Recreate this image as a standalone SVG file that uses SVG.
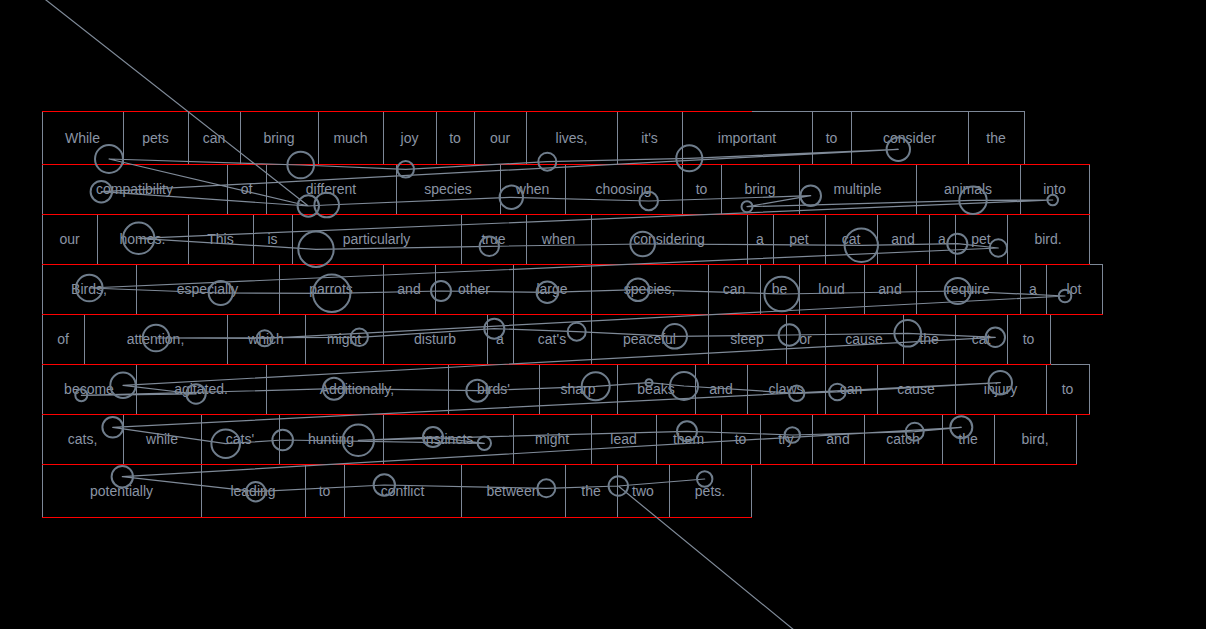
<svg xmlns="http://www.w3.org/2000/svg" width="1206" height="629" viewBox="0 0 1206 629">
<style>
.c rect{fill:none;stroke:#7d8797;stroke-width:1}
.c text{font-family:"Liberation Sans",Arial,sans-serif;font-size:14px;fill:#8a94a4;text-anchor:middle}
.red line{stroke:#ff0000;stroke-width:1.2}
.fx circle{fill:none;stroke:#6f7d8c;stroke-width:2}
.cn{fill:none;stroke:#7f8a98;stroke-width:1.2;stroke-linejoin:round}
</style>
<rect x="0" y="0" width="1206" height="629" fill="#000"/>
<g id="row1" class="c">
<g id="w1-1"><rect x="42.5" y="111.5" width="81" height="53"/><text x="82.5" y="142.5">While</text></g>
<g id="w1-2"><rect x="123.5" y="111.5" width="65" height="53"/><text x="155.5" y="142.5">pets</text></g>
<g id="w1-3"><rect x="188.5" y="111.5" width="52" height="53"/><text x="214" y="142.5">can</text></g>
<g id="w1-4"><rect x="240.5" y="111.5" width="78" height="53"/><text x="279" y="142.5">bring</text></g>
<g id="w1-5"><rect x="318.5" y="111.5" width="65" height="53"/><text x="350.5" y="142.5">much</text></g>
<g id="w1-6"><rect x="383.5" y="111.5" width="53" height="53"/><text x="409.5" y="142.5">joy</text></g>
<g id="w1-7"><rect x="436.5" y="111.5" width="38" height="53"/><text x="455" y="142.5">to</text></g>
<g id="w1-8"><rect x="474.5" y="111.5" width="52" height="53"/><text x="500" y="142.5">our</text></g>
<g id="w1-9"><rect x="526.5" y="111.5" width="91" height="53"/><text x="571.5" y="142.5">lives,</text></g>
<g id="w1-10"><rect x="617.5" y="111.5" width="65" height="53"/><text x="649.5" y="142.5">it's</text></g>
<g id="w1-11"><rect x="682.5" y="111.5" width="130" height="53"/><text x="747" y="142.5">important</text></g>
<g id="w1-12"><rect x="812.5" y="111.5" width="39" height="53"/><text x="831.5" y="142.5">to</text></g>
<g id="w1-13"><rect x="851.5" y="111.5" width="117" height="53"/><text x="909.5" y="142.5">consider</text></g>
<g id="w1-14"><rect x="968.5" y="111.5" width="56" height="53"/><text x="996" y="142.5">the</text></g>
</g>
<g id="row2" class="c">
<g id="w2-1"><rect x="42.5" y="164.5" width="185" height="50"/><text x="134.5" y="194">compatibility</text></g>
<g id="w2-2"><rect x="227.5" y="164.5" width="39" height="50"/><text x="246.5" y="194">of</text></g>
<g id="w2-3"><rect x="266.5" y="164.5" width="130" height="50"/><text x="331" y="194">different</text></g>
<g id="w2-4"><rect x="396.5" y="164.5" width="104" height="50"/><text x="448" y="194">species</text></g>
<g id="w2-5"><rect x="500.5" y="164.5" width="65" height="50"/><text x="532.5" y="194">when</text></g>
<g id="w2-6"><rect x="565.5" y="164.5" width="117" height="50"/><text x="623.5" y="194">choosing</text></g>
<g id="w2-7"><rect x="682.5" y="164.5" width="39" height="50"/><text x="701.5" y="194">to</text></g>
<g id="w2-8"><rect x="721.5" y="164.5" width="78" height="50"/><text x="760" y="194">bring</text></g>
<g id="w2-9"><rect x="799.5" y="164.5" width="117" height="50"/><text x="857.5" y="194">multiple</text></g>
<g id="w2-10"><rect x="916.5" y="164.5" width="104" height="50"/><text x="968" y="194">animals</text></g>
<g id="w2-11"><rect x="1020.5" y="164.5" width="69" height="50"/><text x="1054.5" y="194">into</text></g>
</g>
<g id="row3" class="c">
<g id="w3-1"><rect x="42.5" y="214.5" width="55" height="50"/><text x="69.5" y="244">our</text></g>
<g id="w3-2"><rect x="97.5" y="214.5" width="91" height="50"/><text x="142.5" y="244">homes.</text></g>
<g id="w3-3"><rect x="188.5" y="214.5" width="65" height="50"/><text x="220.5" y="244">This</text></g>
<g id="w3-4"><rect x="253.5" y="214.5" width="39" height="50"/><text x="272.5" y="244">is</text></g>
<g id="w3-5"><rect x="292.5" y="214.5" width="169" height="50"/><text x="376.5" y="244">particularly</text></g>
<g id="w3-6"><rect x="461.5" y="214.5" width="65" height="50"/><text x="493.5" y="244">true</text></g>
<g id="w3-7"><rect x="526.5" y="214.5" width="65" height="50"/><text x="558.5" y="244">when</text></g>
<g id="w3-8"><rect x="591.5" y="214.5" width="156" height="50"/><text x="669" y="244">considering</text></g>
<g id="w3-9"><rect x="747.5" y="214.5" width="26" height="50"/><text x="760" y="244">a</text></g>
<g id="w3-10"><rect x="773.5" y="214.5" width="52" height="50"/><text x="799" y="244">pet</text></g>
<g id="w3-11"><rect x="825.5" y="214.5" width="52" height="50"/><text x="851" y="244">cat</text></g>
<g id="w3-12"><rect x="877.5" y="214.5" width="52" height="50"/><text x="903" y="244">and</text></g>
<g id="w3-13"><rect x="929.5" y="214.5" width="26" height="50"/><text x="942" y="244">a</text></g>
<g id="w3-14"><rect x="955.5" y="214.5" width="52" height="50"/><text x="981" y="244">pet</text></g>
<g id="w3-15"><rect x="1007.5" y="214.5" width="82" height="50"/><text x="1048" y="244">bird.</text></g>
</g>
<g id="row4" class="c">
<g id="w4-1"><rect x="42.5" y="264.5" width="94" height="50"/><text x="89" y="294">Birds,</text></g>
<g id="w4-2"><rect x="136.5" y="264.5" width="143" height="50"/><text x="207.5" y="294">especially</text></g>
<g id="w4-3"><rect x="279.5" y="264.5" width="104" height="50"/><text x="331" y="294">parrots</text></g>
<g id="w4-4"><rect x="383.5" y="264.5" width="52" height="50"/><text x="409" y="294">and</text></g>
<g id="w4-5"><rect x="435.5" y="264.5" width="78" height="50"/><text x="474" y="294">other</text></g>
<g id="w4-6"><rect x="513.5" y="264.5" width="78" height="50"/><text x="552" y="294">large</text></g>
<g id="w4-7"><rect x="591.5" y="264.5" width="117" height="50"/><text x="649.5" y="294">species,</text></g>
<g id="w4-8"><rect x="708.5" y="264.5" width="52" height="50"/><text x="734" y="294">can</text></g>
<g id="w4-9"><rect x="760.5" y="264.5" width="39" height="50"/><text x="779.5" y="294">be</text></g>
<g id="w4-10"><rect x="799.5" y="264.5" width="65" height="50"/><text x="831.5" y="294">loud</text></g>
<g id="w4-11"><rect x="864.5" y="264.5" width="52" height="50"/><text x="890" y="294">and</text></g>
<g id="w4-12"><rect x="916.5" y="264.5" width="104" height="50"/><text x="968" y="294">require</text></g>
<g id="w4-13"><rect x="1020.5" y="264.5" width="26" height="50"/><text x="1033" y="294">a</text></g>
<g id="w4-14"><rect x="1046.5" y="264.5" width="56" height="50"/><text x="1074" y="294">lot</text></g>
</g>
<g id="row5" class="c">
<g id="w5-1"><rect x="42.5" y="314.5" width="42" height="50"/><text x="63" y="344">of</text></g>
<g id="w5-2"><rect x="84.5" y="314.5" width="143" height="50"/><text x="155.5" y="344">attention,</text></g>
<g id="w5-3"><rect x="227.5" y="314.5" width="78" height="50"/><text x="266" y="344">which</text></g>
<g id="w5-4"><rect x="305.5" y="314.5" width="78" height="50"/><text x="344" y="344">might</text></g>
<g id="w5-5"><rect x="383.5" y="314.5" width="104" height="50"/><text x="435" y="344">disturb</text></g>
<g id="w5-6"><rect x="487.5" y="314.5" width="26" height="50"/><text x="500" y="344">a</text></g>
<g id="w5-7"><rect x="513.5" y="314.5" width="78" height="50"/><text x="552" y="344">cat's</text></g>
<g id="w5-8"><rect x="591.5" y="314.5" width="117" height="50"/><text x="649.5" y="344">peaceful</text></g>
<g id="w5-9"><rect x="708.5" y="314.5" width="78" height="50"/><text x="747" y="344">sleep</text></g>
<g id="w5-10"><rect x="786.5" y="314.5" width="39" height="50"/><text x="805.5" y="344">or</text></g>
<g id="w5-11"><rect x="825.5" y="314.5" width="78" height="50"/><text x="864" y="344">cause</text></g>
<g id="w5-12"><rect x="903.5" y="314.5" width="52" height="50"/><text x="929" y="344">the</text></g>
<g id="w5-13"><rect x="955.5" y="314.5" width="52" height="50"/><text x="981" y="344">cat</text></g>
<g id="w5-14"><rect x="1007.5" y="314.5" width="43" height="50"/><text x="1028.5" y="344">to</text></g>
</g>
<g id="row6" class="c">
<g id="w6-1"><rect x="42.5" y="364.5" width="94" height="50"/><text x="89" y="394">become</text></g>
<g id="w6-2"><rect x="136.5" y="364.5" width="130" height="50"/><text x="201" y="394">agitated.</text></g>
<g id="w6-3"><rect x="266.5" y="364.5" width="182" height="50"/><text x="357" y="394">Additionally,</text></g>
<g id="w6-4"><rect x="448.5" y="364.5" width="91" height="50"/><text x="493.5" y="394">birds'</text></g>
<g id="w6-5"><rect x="539.5" y="364.5" width="78" height="50"/><text x="578" y="394">sharp</text></g>
<g id="w6-6"><rect x="617.5" y="364.5" width="78" height="50"/><text x="656" y="394">beaks</text></g>
<g id="w6-7"><rect x="695.5" y="364.5" width="52" height="50"/><text x="721" y="394">and</text></g>
<g id="w6-8"><rect x="747.5" y="364.5" width="78" height="50"/><text x="786" y="394">claws</text></g>
<g id="w6-9"><rect x="825.5" y="364.5" width="52" height="50"/><text x="851" y="394">can</text></g>
<g id="w6-10"><rect x="877.5" y="364.5" width="78" height="50"/><text x="916" y="394">cause</text></g>
<g id="w6-11"><rect x="955.5" y="364.5" width="91" height="50"/><text x="1000.5" y="394">injury</text></g>
<g id="w6-12"><rect x="1046.5" y="364.5" width="43" height="50"/><text x="1067.5" y="394">to</text></g>
</g>
<g id="row7" class="c">
<g id="w7-1"><rect x="42.5" y="414.5" width="81" height="50"/><text x="82.5" y="444">cats,</text></g>
<g id="w7-2"><rect x="123.5" y="414.5" width="78" height="50"/><text x="162" y="444">while</text></g>
<g id="w7-3"><rect x="201.5" y="414.5" width="78" height="50"/><text x="240" y="444">cats'</text></g>
<g id="w7-4"><rect x="279.5" y="414.5" width="104" height="50"/><text x="331" y="444">hunting</text></g>
<g id="w7-5"><rect x="383.5" y="414.5" width="130" height="50"/><text x="448" y="444">instincts</text></g>
<g id="w7-6"><rect x="513.5" y="414.5" width="78" height="50"/><text x="552" y="444">might</text></g>
<g id="w7-7"><rect x="591.5" y="414.5" width="65" height="50"/><text x="623.5" y="444">lead</text></g>
<g id="w7-8"><rect x="656.5" y="414.5" width="65" height="50"/><text x="688.5" y="444">them</text></g>
<g id="w7-9"><rect x="721.5" y="414.5" width="39" height="50"/><text x="740.5" y="444">to</text></g>
<g id="w7-10"><rect x="760.5" y="414.5" width="52" height="50"/><text x="786" y="444">try</text></g>
<g id="w7-11"><rect x="812.5" y="414.5" width="52" height="50"/><text x="838" y="444">and</text></g>
<g id="w7-12"><rect x="864.5" y="414.5" width="78" height="50"/><text x="903" y="444">catch</text></g>
<g id="w7-13"><rect x="942.5" y="414.5" width="52" height="50"/><text x="968" y="444">the</text></g>
<g id="w7-14"><rect x="994.5" y="414.5" width="82" height="50"/><text x="1035" y="444">bird,</text></g>
</g>
<g id="row8" class="c">
<g id="w8-1"><rect x="42.5" y="464.5" width="159" height="53"/><text x="121.5" y="495.5">potentially</text></g>
<g id="w8-2"><rect x="201.5" y="464.5" width="104" height="53"/><text x="253" y="495.5">leading</text></g>
<g id="w8-3"><rect x="305.5" y="464.5" width="39" height="53"/><text x="324.5" y="495.5">to</text></g>
<g id="w8-4"><rect x="344.5" y="464.5" width="117" height="53"/><text x="402.5" y="495.5">conflict</text></g>
<g id="w8-5"><rect x="461.5" y="464.5" width="104" height="53"/><text x="513" y="495.5">between</text></g>
<g id="w8-6"><rect x="565.5" y="464.5" width="52" height="53"/><text x="591" y="495.5">the</text></g>
<g id="w8-7"><rect x="617.5" y="464.5" width="52" height="53"/><text x="643" y="495.5">two</text></g>
<g id="w8-8"><rect x="669.5" y="464.5" width="82" height="53"/><text x="710" y="495.5">pets.</text></g>
</g>
<g id="line-bounds" class="red">
<line x1="42" y1="111.5" x2="752" y2="111.5"/>
<line x1="42" y1="164.5" x2="1090" y2="164.5"/>
<line x1="42" y1="214.5" x2="1090" y2="214.5"/>
<line x1="42" y1="264.5" x2="1090" y2="264.5"/>
<line x1="42" y1="314.5" x2="1103" y2="314.5"/>
<line x1="42" y1="364.5" x2="1051" y2="364.5"/>
<line x1="42" y1="414.5" x2="1090" y2="414.5"/>
<line x1="42" y1="464.5" x2="1077" y2="464.5"/>
<line x1="42" y1="517.5" x2="752" y2="517.5"/>
</g>
<g id="connectors">
<polyline class="cn" points="20.5,-20 308.3,206 109,159 300.7,165 405.7,169.3 547.3,161.7 689.3,158.3 898.3,149.3 101.3,191.7 308.3,206 326.7,205 511.3,197.3 648.7,201 810.7,195.7 747,206.7 973,200.3 1052.7,200 138.7,238.3 316,249.3 489.3,246.3 642.7,244 861.3,245.3 957.3,243.7 998.3,248 89.3,288 220.7,293 331.7,293.3 441,291 547.3,292.3 638,289.7 781.7,294 957.7,291 1065,296 264.7,338.3 156,338 359.3,337.3 494.3,328.7 576.7,331.7 674.7,336.3 789.3,335 907.7,333.3 995.3,337.3 123,385.3 196,394 81.3,395.3 334,388.7 477.3,390.7 595.7,386.3 649,382.7 684,386 796.7,393.3 837.3,392 1000.3,382.7 112.7,427.3 225.7,443.7 282.7,440 484.3,443.3 433,437 358.3,440.3 687,431.3 792.3,435 914.7,431.7 961.3,427.3 122.3,476.7 255.7,491.7 384.3,485 546.3,488.3 618.3,486 704.7,479 618.3,486 830.6,660"/>
</g>
<g id="fixations" class="fx">
<circle cx="109" cy="159" r="14"/>
<circle cx="300.7" cy="165" r="13.3"/>
<circle cx="405.7" cy="169.3" r="8.3"/>
<circle cx="101.3" cy="191.7" r="10.7"/>
<circle cx="308.3" cy="206" r="10.7"/>
<circle cx="326.7" cy="205" r="12.3"/>
<circle cx="138.7" cy="238.3" r="15.7"/>
<circle cx="316" cy="249.3" r="17.7"/>
<circle cx="547.3" cy="161.7" r="9"/>
<circle cx="689.3" cy="158.3" r="13"/>
<circle cx="511.3" cy="197.3" r="11.7"/>
<circle cx="648.7" cy="201" r="9.3"/>
<circle cx="747" cy="206.7" r="5.5"/>
<circle cx="810.7" cy="195.7" r="10.3"/>
<circle cx="489.3" cy="246.3" r="9.7"/>
<circle cx="642.7" cy="244" r="12.3"/>
<circle cx="898.3" cy="149.3" r="11.7"/>
<circle cx="973" cy="200.3" r="13.7"/>
<circle cx="1052.7" cy="200" r="5.3"/>
<circle cx="861.3" cy="245.3" r="16.7"/>
<circle cx="957.3" cy="243.7" r="10"/>
<circle cx="998.3" cy="248" r="8.7"/>
<circle cx="89.3" cy="288" r="13.3"/>
<circle cx="220.7" cy="293" r="12"/>
<circle cx="331.7" cy="293.3" r="18.7"/>
<circle cx="441" cy="291" r="10"/>
<circle cx="156" cy="338" r="13.3"/>
<circle cx="264.7" cy="338.3" r="8"/>
<circle cx="359.3" cy="337.3" r="8.7"/>
<circle cx="123" cy="385.3" r="12.7"/>
<circle cx="81.3" cy="395.3" r="6"/>
<circle cx="196" cy="394" r="9.7"/>
<circle cx="334" cy="388.7" r="11"/>
<circle cx="547.3" cy="292.3" r="10.7"/>
<circle cx="638" cy="289.7" r="11.3"/>
<circle cx="781.7" cy="294" r="17.3"/>
<circle cx="494.3" cy="328.7" r="10"/>
<circle cx="576.7" cy="331.7" r="9"/>
<circle cx="674.7" cy="336.3" r="12.3"/>
<circle cx="789.3" cy="335" r="10.7"/>
<circle cx="477.3" cy="390.7" r="11"/>
<circle cx="595.7" cy="386.3" r="14"/>
<circle cx="649" cy="382.7" r="3.5"/>
<circle cx="684" cy="386" r="14"/>
<circle cx="796.7" cy="393.3" r="7.7"/>
<circle cx="957.7" cy="291" r="13"/>
<circle cx="1065" cy="296" r="6.3"/>
<circle cx="907.7" cy="333.3" r="13.3"/>
<circle cx="995.3" cy="337.3" r="9.7"/>
<circle cx="837.3" cy="392" r="8.3"/>
<circle cx="1000.3" cy="382.7" r="11.7"/>
<circle cx="112.7" cy="427.3" r="10.3"/>
<circle cx="225.7" cy="443.7" r="14.3"/>
<circle cx="282.7" cy="440" r="10.3"/>
<circle cx="358.3" cy="440.3" r="15.7"/>
<circle cx="433" cy="437" r="10"/>
<circle cx="122.3" cy="476.7" r="10.7"/>
<circle cx="255.7" cy="491.7" r="9.7"/>
<circle cx="384.3" cy="485" r="10.7"/>
<circle cx="484.3" cy="443.3" r="6.7"/>
<circle cx="687" cy="431.3" r="10"/>
<circle cx="792.3" cy="435" r="7.7"/>
<circle cx="546.3" cy="488.3" r="9"/>
<circle cx="618.3" cy="486" r="9.7"/>
<circle cx="704.7" cy="479" r="7.7"/>
<circle cx="914.7" cy="431.7" r="9"/>
<circle cx="961.3" cy="427.3" r="11"/>
</g>
</svg>
